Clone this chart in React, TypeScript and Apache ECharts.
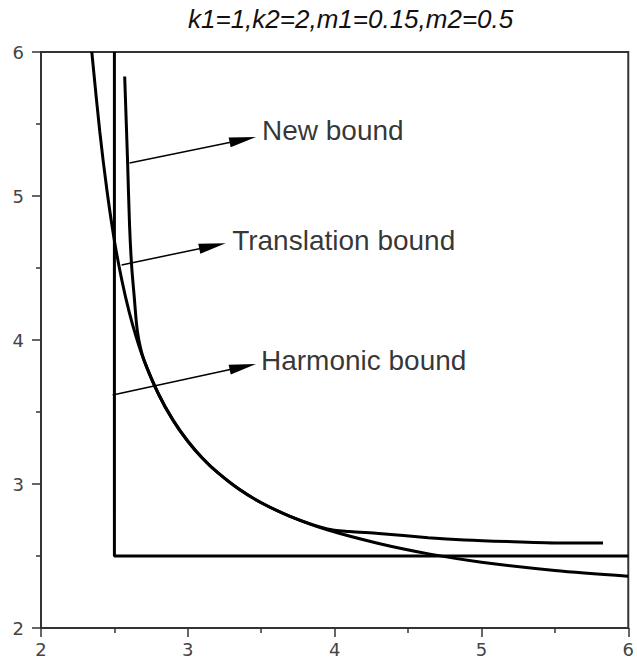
import React, { useEffect, useRef } from "react";
import * as echarts from "echarts";

const titleText = "k1=1,k2=2,m1=0.15,m2=0.5";

// Harmonic bound (L-shaped)
const harmonicX = [2.5, 2.5, 6.0];
const harmonicY = [6.0, 2.5, 2.5];

// Translation bound
const translationX = [2.346, 2.4, 2.45, 2.5, 2.55, 2.6, 2.65, 2.7, 2.8, 2.9, 3.0, 3.1, 3.2, 3.35, 3.5, 3.7, 3.95, 4.3, 4.65, 5.0, 5.5, 6.0];
const translationY = [6.0, 5.45, 5.033, 4.69, 4.418, 4.197, 4.015, 3.864, 3.625, 3.442, 3.297, 3.179, 3.082, 2.963, 2.87, 2.774, 2.682, 2.587, 2.513, 2.457, 2.4, 2.36];

// New bound
const newX = [2.57, 2.59, 2.603, 2.617, 2.635, 2.658, 2.7, 2.8, 2.9, 3.0, 3.1, 3.2, 3.35, 3.5, 3.7, 3.95, 4.1, 4.3, 4.637, 4.886, 5.18, 5.553, 5.828];
const newY = [5.83, 5.23, 4.8, 4.52, 4.3, 4.05, 3.864, 3.625, 3.442, 3.297, 3.179, 3.082, 2.963, 2.87, 2.774, 2.688, 2.67, 2.657, 2.627, 2.611, 2.6, 2.59, 2.59];

// Annotations: arrow start, arrow head centre, label anchor
const annotationNames = ["New bound", "Translation bound", "Harmonic bound"];
const arrowStartX = [2.603, 2.549, 2.488];
const arrowStartY = [5.229, 4.521, 3.618];
const arrowEndX = [3.375, 3.168, 3.375];
const arrowEndY = [5.391, 4.653, 3.814];
const labelX = [3.505, 3.302, 3.498];
const labelY = [5.458, 4.688, 3.861];

const zip = (xs: number[], ys: number[]) => xs.map((x, i) => [x, ys[i]]);

export default function App() {
  const ref = useRef<HTMLDivElement>(null);
  useEffect(() => {
    if (!ref.current) return;
    const chart = echarts.init(ref.current, undefined, { renderer: "svg" });
    const axisColor = "#333";
    const axisCommon = {
      type: "value" as const,
      min: 2,
      max: 6,
      interval: 1,
      axisLine: { show: true, lineStyle: { color: axisColor, width: 2 } },
      axisTick: { show: true, length: 9, lineStyle: { color: axisColor, width: 1.5 } },
      minorTick: { show: true, splitNumber: 2, length: 5, lineStyle: { color: axisColor, width: 1.5 } },
      splitLine: { show: false },
      minorSplitLine: { show: false },
    };
    const curveStyle = { color: "#000", width: 3 };
    chart.setOption({
      animation: false,
      backgroundColor: "#fff",
      title: {
        text: titleText,
        left: 183,
        top: 1,
        textStyle: {
          fontFamily: "Liberation Sans",
          fontStyle: "italic",
          fontWeight: "normal",
          fontSize: 26,
          color: "#111",
        },
      },
      grid: {
        left: 41,
        right: 6,
        top: 52,
        bottom: 39,
        show: true,
        borderColor: axisColor,
        borderWidth: 2,
        backgroundColor: "transparent",
      },
      xAxis: {
        ...axisCommon,
        axisLabel: { margin: 12, fontSize: 18, color: "#444", fontFamily: "DejaVu Sans" },
      },
      yAxis: {
        ...axisCommon,
        axisLabel: { margin: 17, fontSize: 18, color: "#444", fontFamily: "DejaVu Sans" },
      },
      series: [
        {
          name: "Harmonic bound",
          type: "line",
          data: zip(harmonicX, harmonicY),
          showSymbol: false,
          lineStyle: curveStyle,
          itemStyle: { color: "#000" },
          markLine: {
            silent: true,
            symbol: ["none", "triangle"],
            symbolSize: [10, 27],
            lineStyle: { color: "#000", width: 1.5, type: "solid" },
            label: { show: false },
            data: annotationNames.map((_, i) => [
              { coord: [arrowStartX[i], arrowStartY[i]] },
              { coord: [arrowEndX[i], arrowEndY[i]] },
            ]),
          },
        },
        {
          name: "Translation bound",
          type: "line",
          data: zip(translationX, translationY),
          showSymbol: false,
          smooth: 0.3,
          lineStyle: curveStyle,
          itemStyle: { color: "#000" },
        },
        {
          name: "New bound",
          type: "line",
          data: zip(newX, newY),
          showSymbol: false,
          smooth: 0.3,
          lineStyle: curveStyle,
          itemStyle: { color: "#000" },
        },
        {
          name: "labels",
          type: "scatter",
          symbolSize: 0,
          silent: true,
          data: annotationNames.map((n, i) => [labelX[i], labelY[i], n]),
          label: {
            show: true,
            position: "right",
            distance: 0,
            formatter: (p: any) => p.data[2],
            fontSize: 28,
            color: "#000",
            fontFamily: "Liberation Sans",
          },
        },
      ],
    });
    return () => chart.dispose();
  }, []);
  return (
    <div
      ref={ref}
      style={{ position: "absolute", left: 0, top: 0, width: 637, height: 667 }}
    />
  );
}
